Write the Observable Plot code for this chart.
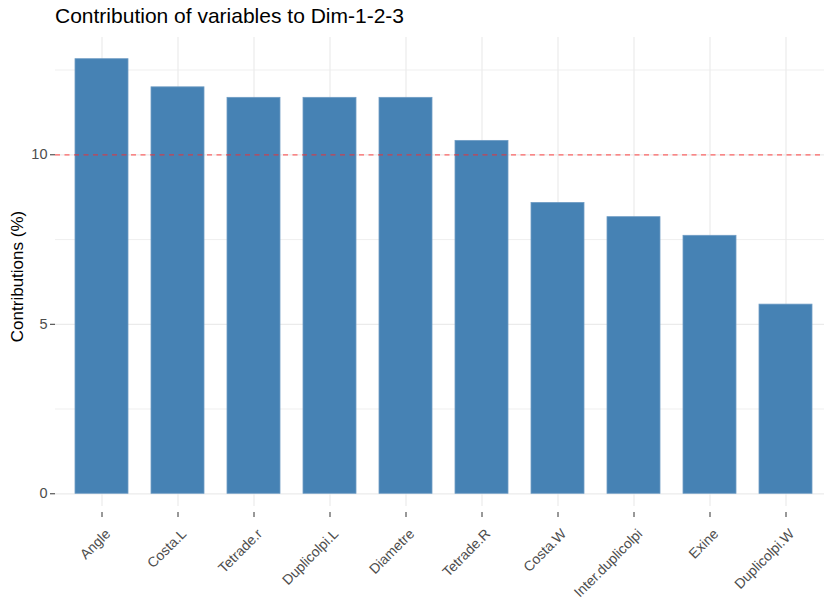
<!DOCTYPE html>
<html>
<head>
<meta charset="utf-8">
<script src="https://cdn.jsdelivr.net/npm/d3@7"></script>
<script src="https://cdn.jsdelivr.net/npm/@observablehq/plot@0.6"></script>
<style>
  html, body { margin: 0; padding: 0; background: #fff; }
  #title { height: 30px; box-sizing: border-box; padding-left: 55px; padding-top: 5px;
    font-family: "Liberation Sans", Arial, sans-serif; font-size: 21px; line-height: 21px; color: #000; white-space: nowrap; }
  svg { display: block; }
</style>
</head>
<body>
<div id="title">Contribution of variables to Dim-1-2-3</div>
<div id="chart"></div>
<script>
const variables = ["Angle", "Costa.L", "Tetrade.r", "Duplicolpi.L", "Diametre", "Tetrade.R", "Costa.W", "Inter.duplicolpi", "Exine", "Duplicolpi.W"];
const contributions = [12.82, 11.99, 11.68, 11.68, 11.68, 10.41, 8.58, 8.16, 7.61, 5.58];
const threshold = [10];
const yMajorTicks = [0, 5, 10];
const yMinorTicks = [2.5, 7.5, 12.5];
const yLabel = "Contributions (%)";

const data = variables.map((v, i) => ({variable: v, value: contributions[i]}));
const font = "Liberation Sans, Arial, sans-serif";

const chart = Plot.plot({
  width: 824,
  height: 569,
  marginTop: 7,
  marginBottom: 93,
  marginLeft: 55,
  marginRight: 0,
  style: {fontFamily: font, background: "#fff", overflow: "visible"},
  x: {type: "band", domain: variables, range: [55, 832], paddingInner: 0.3, paddingOuter: 0.25, align: 0.5},
  y: {domain: [-0.375, 13.46]},
  marks: [
    Plot.gridY(yMinorTicks, {stroke: "#EBEBEB", strokeOpacity: 1, strokeWidth: 0.8}),
    Plot.gridY(yMajorTicks, {stroke: "#EBEBEB", strokeOpacity: 1, strokeWidth: 1.2}),
    Plot.gridX(variables, {stroke: "#EBEBEB", strokeOpacity: 1, strokeWidth: 1.2}),
    Plot.barY(data, {x: "variable", y: "value", fill: "#4682B4", stroke: "#6f9cc4", strokeWidth: 0.8}),
    Plot.ruleY(threshold, {stroke: "#ff2a2a", strokeOpacity: 0.7, strokeWidth: 1.3, strokeDasharray: "5,4.5"}),
    Plot.axisY(yMajorTicks, {tickSize: 5, tickPadding: 3, stroke: "#333", fill: "#4D4D4D", fontSize: 14.5, label: null}),
    Plot.axisX(variables, {tickSize: 5, dy: 6, tickFormat: () => "", stroke: "#333", label: null}),
    Plot.axisX(variables, {tickSize: 0, tickPadding: 9, dx: 6, dy: 16, tickRotate: -45, fill: "#4D4D4D", fontSize: 14, label: null}),
    Plot.text([yLabel], {text: d => d, frameAnchor: "left", textAnchor: "middle", dx: -37.5, dy: 4.5, rotate: -90, fontSize: 17, fill: "#000", clip: false})
  ]
});
document.getElementById("chart").appendChild(chart);
</script>
</body>
</html>
